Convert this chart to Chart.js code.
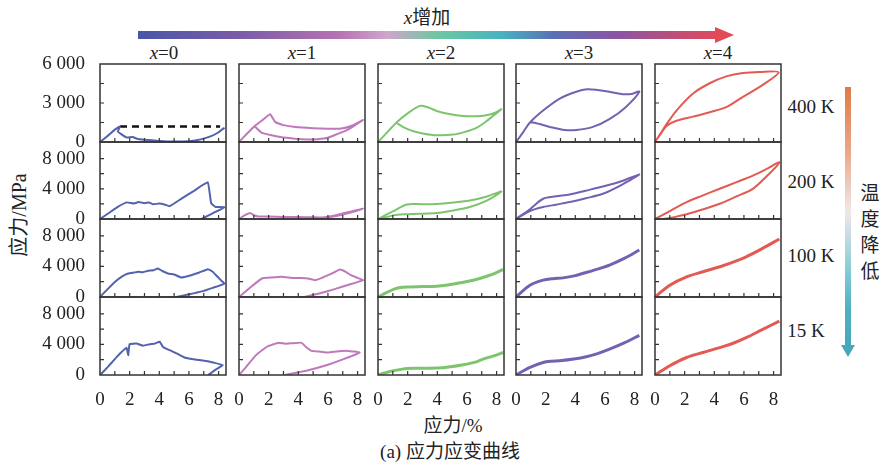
<!DOCTYPE html>
<html>
<head>
<meta charset="utf-8">
<script src="https://cdn.jsdelivr.net/npm/chart.js@4.4.1/dist/chart.umd.min.js"></script>
<style>
  body { margin: 0; background: #fff; width: 883px; height: 469px; position: relative; overflow: hidden;
         font-family: "Liberation Serif", "Times New Roman", "Noto Sans CJK SC", serif; color: #222; }
  canvas { position: absolute; }
  .t { position: absolute; white-space: nowrap; font-size: 19px; line-height: 1; transform: translate(-50%, -50%); }
  .bar { position: absolute; }
</style>
</head>
<body>

<div class="t" style="left:427px;top:17px"><i>x</i>增加</div>
<div class="bar" style="left:138px;top:31px;width:578px;height:8px;
  background:linear-gradient(90deg,#4a57a6 0%,#7b5ca8 18%,#b773b3 35%,#cfa6cc 43%,#6cc7a2 52%,#46b3bf 63%,#5a6fb5 72%,#8b55a3 83%,#e04a5c 100%)"></div>
<div class="bar" style="left:715px;top:27px;width:0;height:0;border-left:19px solid #e24a58;border-top:8px solid transparent;border-bottom:8px solid transparent"></div>

<div class="t" style="left:164px;top:52px"><i>x</i>=0</div>
<div class="t" style="left:302px;top:52px"><i>x</i>=1</div>
<div class="t" style="left:441px;top:52px"><i>x</i>=2</div>
<div class="t" style="left:579px;top:52px"><i>x</i>=3</div>
<div class="t" style="left:718px;top:52px"><i>x</i>=4</div>

<div class="t" style="left:811px;top:106px">400 K</div>
<div class="t" style="left:811px;top:181px">200 K</div>
<div class="t" style="left:811px;top:255px">100 K</div>
<div class="t" style="left:806px;top:330px">15 K</div>

<div class="bar" style="left:845px;top:87px;width:6px;height:260px;
  background:linear-gradient(180deg,#e07a45 0%,#e9a88a 25%,#f2e6ea 48%,#9fd3dc 65%,#4eb2c2 85%,#45a9bb 100%)"></div>
<div class="bar" style="left:841px;top:345px;width:0;height:0;border-top:12px solid #47a8ba;border-left:7px solid transparent;border-right:7px solid transparent"></div>
<div style="position:absolute;left:860px;top:181px;width:20px;font-size:19px;line-height:26px;text-align:center">温<br>度<br>降<br>低</div>

<div class="t" style="left:19px;top:215px;font-size:20px;transform:translate(-50%,-50%) rotate(-90deg)">应力/MPa</div>
<div class="t" style="left:453px;top:425px">应力/%</div>
<div class="t" style="left:450px;top:451px">(a) 应力应变曲线</div>

<script>
// composition / temperature categories
const compositions = ['x=0', 'x=1', 'x=2', 'x=3', 'x=4'];
const temperatures = ['400 K', '200 K', '100 K', '15 K'];
const xTickValues = [0, 1, 2, 3, 4, 5, 6, 7, 8];
const xTickLabels = [0, 2, 4, 6, 8];
const topRowTickValues = [0, 1500, 3000, 4500, 6000];
const topRowTicks = [0, 3000, 6000];
const lowRowTickValues = [0, 2000, 4000, 6000, 8000];
const lowRowTicks = [0, 4000, 8000];

// strain (%), stress (MPa) pairs
const x0_400K = [[0,0],[0.6,550],[1.0,950],[1.35,1200],[1.2,800],[1.5,550],[1.8,350],[2.2,380],[2.5,250],[3,180],[4,80],[5,30],[6,60],[6.8,200],[7.5,450],[8.0,750],[8.4,1100]];
const x0_400K_dash = [[1.35,1200],[8.1,1200]];
const x1_400K = [[0,0],[0.5,600],[1.05,1220],[1.6,1700],[2.1,2130],[2.45,1530],[3.0,1300],[3.8,1150],[5,1060],[6,1020],[6.9,1030],[7.6,1250],[8.36,1690],[7.35,960],[6.6,600],[6,330],[5.3,220],[4.67,190],[3.8,250],[2.9,370],[2.2,520],[1.54,700],[1.05,1220]];
const x2_400K = [[0,0],[0.6,720],[1.23,1480],[2.0,2200],[2.84,2780],[3.4,2650],[3.96,2390],[4.8,2150],[5.75,2000],[6.6,1980],[7.3,2060],[7.9,2250],[8.32,2520],[7.76,2000],[7.2,1500],[6.64,1090],[5.8,760],[5.07,570],[3.96,520],[3.1,640],[2.39,830],[1.7,1150],[1.23,1480]];
const x3_400K = [[0,0],[0.5,780],[0.94,1500],[1.83,2420],[2.95,3340],[4.07,3870],[4.8,4050],[5.5,4000],[6.3,3870],[7.2,3680],[7.8,3700],[8.32,3870],[7.4,2680],[6.3,1760],[5.19,1160],[4.07,920],[3.3,920],[2.28,1160],[1.6,1380],[1.16,1500],[0.94,1500]];
const x4_400K = [[0,0],[0.4,700],[0.78,1370],[1.45,2420],[2.57,3730],[3.69,4520],[4.81,5050],[5.93,5310],[7.05,5390],[8.34,5370],[7.27,4390],[5.93,3470],[4.81,2680],[3.69,2290],[2.57,1950],[1.45,1630],[0.78,1240],[0.4,650],[0.1,180]];

const x0_200K = [[0,0],[0.6,800],[1.2,1600],[1.8,2200],[2.3,2050],[2.6,2250],[3.0,2100],[3.3,2200],[3.6,1950],[4.0,2050],[4.4,1900],[4.7,1700],[5.5,2700],[6.4,3800],[7.27,4870],[7.5,2100],[7.8,1600],[8.39,1550],[7.6,750],[6.85,0]];
const x1_200K = [[0,0],[0.4,500],[0.76,790],[1.0,500],[1.32,330],[2,330],[3,280],[4,250],[5,230],[5.6,200],[6.3,400],[6.91,700],[7.6,1000],[8.36,1370],[7.6,900],[6.8,500],[6,200],[5.1,0]];
const x2_200K = [[0,0],[1.0,1000],[1.95,1930],[3,1960],[3.96,2000],[5.1,2200],[6.19,2460],[7.3,2950],[8.32,3640],[7.3,2400],[6.19,1580],[5,1100],[3.96,790],[2.8,680],[1.72,620],[1.0,480],[0.5,200],[0,0]];
const x3_200K = [[0,0],[0.94,1300],[1.83,2680],[2.7,3000],[3.62,3250],[4.7,3750],[5.86,4300],[7.1,5000],[8.32,5880],[7.1,4500],[5.86,3340],[4.7,2750],[3.62,2240],[2.7,1900],[1.83,1580],[0.94,1050],[0,0]];
const x4_200K = [[0,0],[1.0,1050],[2.13,2240],[3.2,3100],[4.36,4000],[5.5,4880],[6.6,5750],[7.5,6600],[8.39,7500],[7.5,5600],[6.6,4000],[5.5,3000],[4.36,2020],[3.2,1250],[2.13,620],[1.3,250],[0.56,0]];

const x0_100K = [[0,0],[0.5,1000],[1.0,1970],[1.5,2700],[1.9,3080],[2.3,3200],[2.57,3290],[2.9,3250],[3.24,3420],[3.6,3500],[3.91,3730],[4.2,3400],[4.59,3080],[5.0,2950],[5.48,2550],[6.15,2850],[6.7,3200],[7.27,3640],[7.6,3300],[7.83,2850],[8.1,2300],[8.39,1760],[7.6,1200],[6.8,700],[6.0,350],[5.15,0]];
const x1_100K = [[0,0],[0.8,1300],[1.54,2420],[2.2,2550],[2.9,2640],[3.6,2500],[4.2,2500],[4.67,2420],[5.12,2200],[5.6,2500],[6.01,2850],[6.4,3200],[6.8,3600],[7.2,3300],[7.55,2850],[8.0,2500],[8.36,2200],[7.4,1600],[6.4,1000],[5.4,450],[4.4,0]];
const x2_100K = [[0,0],[0.5,500],[1.05,1010],[1.5,1250],[1.95,1320],[3,1360],[3.96,1400],[4.7,1560],[5.3,1760],[6.1,2050],[6.86,2420],[7.7,2950],[8.43,3600]];
const x3_100K = [[0,0],[0.94,1540],[1.83,2200],[2.5,2400],[3.17,2500],[4.0,2800],[4.74,3210],[5.5,3650],[6.31,4170],[7.3,5050],[8.32,6140]];
const x4_100K = [[0,0],[1.0,1540],[2.13,2630],[3.24,3300],[4.58,4080],[5.4,4650],[6.15,5260],[7.2,6300],[8.39,7590]];

const x0_15K = [[0,0],[0.5,1000],[1.0,2080],[1.4,2900],[1.79,3580],[1.9,2600],[1.95,3500],[2.0,4030],[2.46,4120],[2.9,3830],[3.35,4030],[3.7,4100],[4.03,4360],[4.25,3660],[4.81,3150],[5.2,2800],[5.7,2290],[6.3,2050],[7.05,1860],[7.7,1600],[8.28,1300],[7.8,700],[7.3,0]];
const x1_15K = [[0,0],[0.5,1100],[1.1,2500],[1.6,3300],[2.0,3800],[2.66,4230],[3.1,4100],[3.55,4150],[4.2,4230],[4.5,3700],[4.9,3150],[5.5,3050],[6.0,2940],[6.7,3100],[7.35,3150],[8.14,2940],[7.1,2100],[6.0,1350],[4.6,600],[3.1,0]];
const x2_15K = [[0,0],[0.5,300],[1.05,560],[1.95,860],[3,880],[3.96,900],[4.9,1080],[5.75,1340],[6.5,1650],[7.09,2080],[7.8,2500],[8.43,2940]];
const x3_15K = [[0,0],[0.94,990],[1.83,1640],[2.4,1800],[2.95,1860],[3.9,2080],[4.74,2380],[5.5,2800],[6.31,3380],[7.3,4200],[8.32,5190]];
const x4_15K = [[0,0],[1.0,1210],[2.13,2290],[3.24,2940],[4.58,3710],[5.4,4250],[6.15,4880],[7.2,5900],[8.39,7050]];

const curves = [
  [x0_400K, x1_400K, x2_400K, x3_400K, x4_400K],
  [x0_200K, x1_200K, x2_200K, x3_200K, x4_200K],
  [x0_100K, x1_100K, x2_100K, x3_100K, x4_100K],
  [x0_15K, x1_15K, x2_15K, x3_15K, x4_15K],
];
const seriesColors = ['#5362ad', '#bf78bc', '#7dc56c', '#7561b1', '#e35a52'];

const lefts = [100, 239, 378, 516, 655];
const tops = [64, 142, 219, 297];
const heights = [78, 77, 78, 78];
const panelW = 126;

const tickFont = { family: "'Liberation Serif','Times New Roman',serif", size: 19 };
const spaced = (v) => String(v).replace(/\B(?=(\d{3})+(?!\d))/g, ' ');

function noPadding(s) {
  s.paddingLeft = 0;
  s.paddingRight = 0;
  s.paddingTop = 0;
  s.paddingBottom = 0;
}

// frame with inward ticks on left and bottom
const framePlugin = {
  id: 'frame',
  afterDraw(chart) {
    const { ctx, chartArea: a, scales: { x, y } } = chart;
    ctx.save();
    ctx.strokeStyle = '#333';
    ctx.lineWidth = 1.5;
    ctx.strokeRect(a.left, a.top, a.right - a.left, a.bottom - a.top);
    ctx.lineWidth = 1.2;
    ctx.beginPath();
    x.ticks.forEach((t) => {
      if (t.value > 0) {
        const px = x.getPixelForValue(t.value);
        ctx.moveTo(px, a.bottom);
        ctx.lineTo(px, a.bottom - 4);
      }
    });
    y.ticks.forEach((t) => {
      if (t.value > 0 && t.value < y.max) {
        const py = y.getPixelForValue(t.value);
        ctx.moveTo(a.left, py);
        ctx.lineTo(a.left + 4, py);
      }
    });
    ctx.stroke();
    ctx.restore();
  },
};

temperatures.forEach((temp, r) => {
  compositions.forEach((comp, c) => {
    const padL = c === 0 ? 100 : 8;
    const padR = 8;
    const padT = 12;
    const padB = r === 3 ? 44 : 14;
    const w = panelW + padL + padR;
    const h = heights[r] + padT + padB;

    const canvas = document.createElement('canvas');
    canvas.width = w;
    canvas.height = h;
    canvas.style.left = (lefts[c] - padL) + 'px';
    canvas.style.top = (tops[r] - padT) + 'px';
    canvas.style.width = w + 'px';
    canvas.style.height = h + 'px';
    document.body.appendChild(canvas);

    const smooth = c >= 2;
    const datasets = [{
      label: comp + ' ' + temp,
      data: curves[r][c].map(([x, y]) => ({ x, y })),
      showLine: true,
      borderColor: seriesColors[c],
      borderWidth: r >= 2 && smooth ? 3 : 2,
      pointRadius: 0,
      tension: smooth ? 0.3 : 0.1,
    }];
    if (r === 0 && c === 0) {
      datasets.push({
        label: 'plateau',
        data: x0_400K_dash.map(([x, y]) => ({ x, y })),
        showLine: true,
        borderColor: '#111',
        borderWidth: 2.5,
        borderDash: [7, 5],
        pointRadius: 0,
      });
    }

    const yTickValues = r === 0 ? topRowTickValues : lowRowTickValues;
    const yTicks = r === 0 ? topRowTicks : lowRowTicks;

    new Chart(canvas.getContext('2d'), {
      type: 'scatter',
      data: { datasets },
      options: {
        responsive: false,
        animation: false,
        layout: { padding: { top: padT, right: padR, left: 0, bottom: 0 } },
        plugins: { legend: { display: false }, tooltip: { enabled: false } },
        scales: {
          x: {
            type: 'linear',
            min: 0,
            max: 8.5,
            grid: { display: false },
            border: { display: false },
            ticks: {
              display: r === 3,
              autoSkip: false,
              maxRotation: 0,
              padding: 6,
              color: '#222',
              font: tickFont,
              callback: (v) => (xTickLabels.includes(v) ? String(v) : ''),
            },
            afterBuildTicks: (s) => { s.ticks = xTickValues.map((v) => ({ value: v })); },
            afterFit: (s) => { s.height = padB; noPadding(s); },
          },
          y: {
            type: 'linear',
            min: 0,
            max: r === 0 ? 6000 : 10200,
            grid: { display: false },
            border: { display: false },
            ticks: {
              display: c === 0,
              autoSkip: false,
              padding: 7,
              color: '#222',
              font: tickFont,
              callback: (v) => (yTicks.includes(v) ? spaced(v) : ''),
            },
            afterBuildTicks: (s) => { s.ticks = yTickValues.map((v) => ({ value: v })); },
            afterFit: (s) => { s.width = padL; noPadding(s); },
          },
        },
      },
      plugins: [framePlugin],
    });
  });
});
</script>
</body>
</html>
